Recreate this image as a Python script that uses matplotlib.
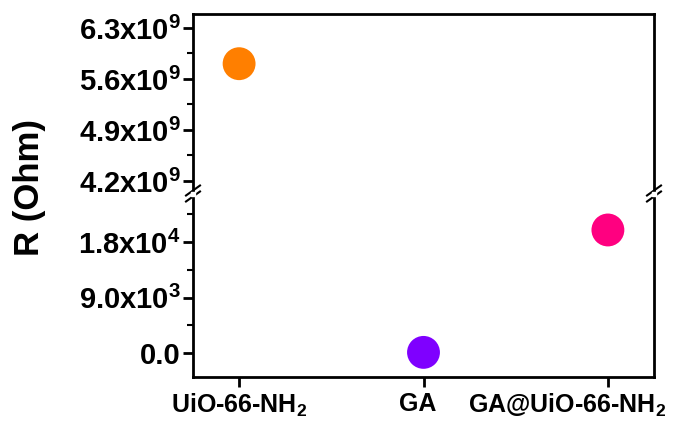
import numpy as np
import matplotlib.pyplot as plt
from matplotlib.ticker import FixedLocator
from matplotlib.transforms import ScaledTranslation

plt.rcParams['font.family'] = ['Liberation Sans', 'DejaVu Sans']
plt.rcParams['font.weight'] = 'bold'
plt.rcParams['mathtext.fontset'] = 'custom'
plt.rcParams['mathtext.rm'] = 'Liberation Sans:bold'
plt.rcParams['mathtext.bf'] = 'Liberation Sans:bold'
plt.rcParams['mathtext.default'] = 'bf'

samples = ['UiO-66-NH$_2$', 'GA', 'GA@UiO-66-NH$_2$']
resistance = [5.81e9, 100, 1.995e4]
colors = ['#FF7F00', '#7F00FF', '#FF0080']

top_ticks = [4.2e9, 4.9e9, 5.6e9, 6.3e9]
top_labels = ['4.2x10$^9$', '4.9x10$^9$', '5.6x10$^9$', '6.3x10$^9$']
bot_ticks = [0, 9000, 18000]
bot_labels = ['0.0', '9.0x10$^3$', '1.8x10$^4$']

fig = plt.figure(figsize=(6.82, 4.24), dpi=100)
left, right = 193 / 682, 654 / 682
ax_top = fig.add_axes([left, 1 - 192 / 424, right - left, (192 - 14) / 424])
ax_bot = fig.add_axes([left, 1 - 377 / 424, right - left, (377 - 195) / 424])

x = np.arange(1, len(samples) + 1)
for ax in (ax_top, ax_bot):
    ax.scatter(x, resistance, s=560, c=colors, edgecolors='none', zorder=3)
    ax.set_xlim(0.75, 3.25)
    for sp in ax.spines.values():
        sp.set_linewidth(2)
    ax.tick_params(axis='both', which='major', direction='out', length=7, width=2,
                   labelsize=21, pad=2)
    ax.tick_params(axis='y', which='minor', direction='out', length=4, width=1.5)

ax_top.set_ylim(4.049e9, 6.492e9)
ax_top.yaxis.set_major_locator(FixedLocator(top_ticks))
ax_top.set_yticklabels(top_labels)
ax_top.yaxis.set_minor_locator(FixedLocator([4.55e9, 5.25e9, 5.95e9]))
ax_top.spines['bottom'].set_visible(False)
ax_top.tick_params(axis='x', which='both', bottom=False, labelbottom=False)

ax_bot.set_ylim(-3892, 25622)
ax_bot.yaxis.set_major_locator(FixedLocator(bot_ticks))
ax_bot.set_yticklabels(bot_labels)
ax_bot.yaxis.set_minor_locator(FixedLocator([4500, 13500, 22500]))
ax_bot.spines['top'].set_visible(False)
ax_bot.set_xticks(x)
ax_bot.set_xticklabels(samples, fontsize=18)
ax_bot.tick_params(axis='x', pad=4)
# shift labels like the original
shifts = [0, -6, -41]
for lab, dx in zip(ax_bot.get_xticklabels(), shifts):
    lab.set_transform(lab.get_transform() + ScaledTranslation(dx / 100, 0, fig.dpi_scale_trans))

# break marks
yb = 1 - 193.5 / 424
for xb in (left, right):
    for dy in (-3 / 424, 3 / 424):
        fig.lines.append(plt.Line2D([xb - 7 / 682, xb + 7 / 682],
                                    [yb + dy - 5 / 424, yb + dy + 5 / 424],
                                    transform=fig.transFigure, color='black', lw=1.5))
    fig.patches.append(plt.Rectangle((xb - 2 / 682, yb - 2 / 424), 4 / 682, 4 / 424,
                                     transform=fig.transFigure, color='white', zorder=5))

fig.text(30 / 682, 1 - 187 / 424, 'R (Ohm)', rotation=90, fontsize=25,
         ha='center', va='center', fontweight='bold')

fig.savefig('out.png', dpi=100)
